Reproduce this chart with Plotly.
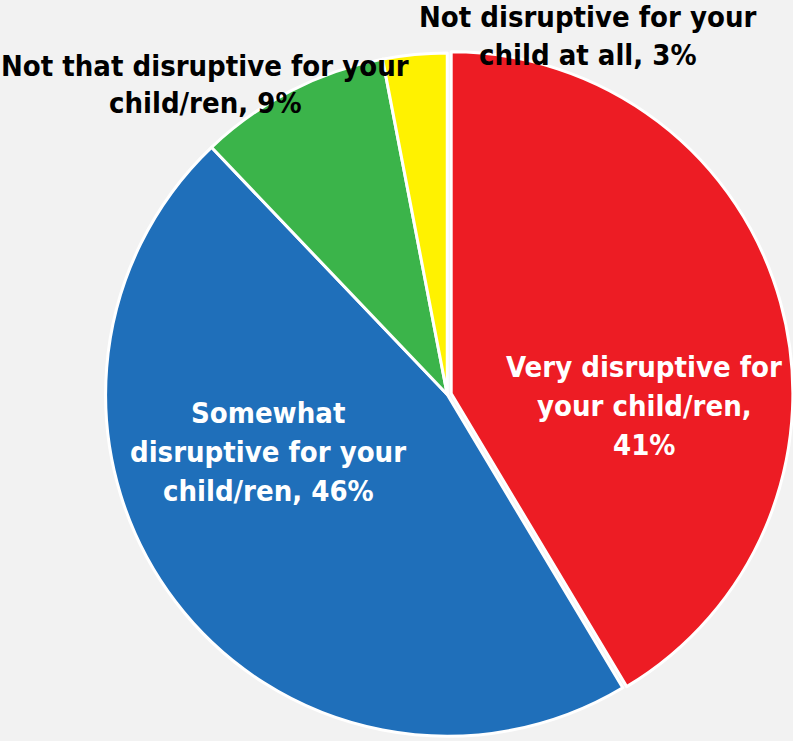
import plotly.graph_objects as go

categories = [
    "Very disruptive for your child/ren",
    "Somewhat disruptive for your child/ren",
    "Not that disruptive for your child/ren",
    "Not disruptive for your child at all",
]
values = [41, 46, 9, 3]
colors = ["#ED1C24", "#1F6FBA", "#3BB44A", "#FFF200"]
pulls = [0.012, 0, 0, 0]

# label lines (text split as in the reference); last piece gets the percentage
label_lines = [
    ["Very disruptive for", "your child/ren,", "{v}%"],
    ["Somewhat", "disruptive for your", "child/ren, {v}%"],
    ["Not that disruptive for your", "child/ren, {v}%"],
    ["Not disruptive for your", "child at all, {v}%"],
]
label_colors = ["white", "white", "black", "black"]
# label line centres in pixels (x, y of first line, line step)
label_pos = [(644, 367, 39), (268, 413, 39), (205, 66, 37), (588, 17, 38)]

W, H = 793, 741

fig = go.Figure(
    go.Pie(
        labels=categories,
        values=values,
        sort=False,
        direction="clockwise",
        rotation=0,
        pull=pulls,
        marker=dict(colors=colors, line=dict(color="white", width=3)),
        textinfo="none",
        hoverinfo="label+percent",
        domain=dict(x=[0.128, 1.0], y=[0.0, 0.935]),
    )
)

font_family = "Liberation Sans Narrow, DejaVu Sans Condensed, Roboto Condensed, Arial Narrow, sans-serif"
annotations = []
for lines, col, (px, py, step), v in zip(label_lines, label_colors, label_pos, values):
    for i, ln in enumerate(lines):
        annotations.append(
            dict(
                text=ln.format(v=v),
                x=px / W,
                y=1 - (py + i * step) / H,
                xref="paper",
                yref="paper",
                xanchor="center",
                yanchor="middle",
                showarrow=False,
                font=dict(family=font_family, size=29, color=col, weight="bold"),
            )
        )

fig.update_layout(
    width=W,
    height=H,
    margin=dict(l=0, r=0, t=0, b=0),
    paper_bgcolor="#F2F2F2",
    plot_bgcolor="#F2F2F2",
    showlegend=False,
    annotations=annotations,
)

fig.write_html(
    "out.html",
    config={"displayModeBar": False},
    post_script="document.body.style.margin='0';document.body.style.overflow='hidden';",
)
